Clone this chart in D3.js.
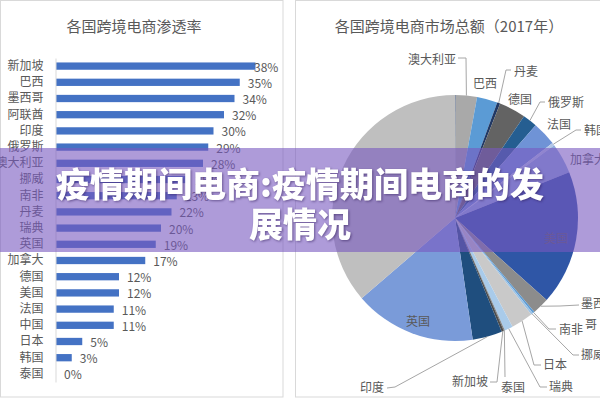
<!DOCTYPE html>
<html><head><meta charset="utf-8">
<script src="https://cdn.jsdelivr.net/npm/d3@7"></script>
<style>
html,body{margin:0;padding:0;background:#fff;}
svg{display:block;font-family:"Noto Sans CJK SC","Noto Sans",sans-serif;}
</style></head>
<body><svg id="c" width="600" height="400"></svg>
<script>
// ---- data ----
const barTitle = '各国跨境电商渗透率';
const barCategories = ['新加坡','巴西','墨西哥','阿联酋','印度','俄罗斯','澳大利亚','挪威','南非','丹麦','瑞典','英国','加拿大','德国','美国','法国','中国','日本','韩国','泰国'];
const penetrationRates = [38,35,34,32,30,29,28,25,23,22,20,19,17,12,12,11,11,5,3,0];

const pieTitle = '各国跨境电商市场总额（2017年）';
const pieCountries = ['阿联酋','澳大利亚','巴西','丹麦','德国','俄罗斯','法国','韩国','加拿大','美国','墨西哥','南非','挪威','日本','瑞典','泰国','新加坡','印度','英国','中国'];
const marketShares = [0.08,2.8,2.7,0.4,3.5,1.9,3.2,0.35,4.0,17.7,2.2,0.25,0.28,2.9,1.1,0.14,0.3,3.9,16.0,36.3];

const bannerLines = ['疫情期间电商:疫情期间电商的发','展情况'];

// ---- styles / layout (not data) ----
const pieColors = ['#264478','#A9A9A9','#5B9BD5','#203864','#636363','#255E91','#6F93D6','#B4C7E7','#8FAADC','#2F56A6','#8C8C8C','#5B9BD5','#9DC3E6','#C9C9C9','#A9CBEA','#7F7F7F','#4D4D4D','#1F4E7E','#7A9BD9','#BFBFBF'];
const labelLayout = {
  '澳大利亚':{x:456,y:58,a:'end',lead:[458,58,466,58]},
  '巴西':{x:485,y:82,a:'middle'},
  '丹麦':{x:514,y:70,a:'start',lead:[511,70,506,70]},
  '德国':{x:520,y:98,a:'middle'},
  '俄罗斯':{x:548,y:101,a:'start',lead:[545,102,540,102]},
  '法国':{x:547,y:123,a:'start'},
  '韩国':{x:584,y:129,a:'start',lead:[581,130,576,130]},
  '加拿大':{x:570,y:158,a:'start'},
  '美国':{x:556,y:237,a:'middle'},
  '墨西哥':{x:581,y:302,a:'start',lead:[579,305,560,306],wrap:['墨西','哥'],dx2:4},
  '南非':{x:559,y:328,a:'start',lead:[556,329,549,329]},
  '挪威':{x:581,y:353,a:'start',lead:[579,355,573,355]},
  '日本':{x:543,y:363,a:'start',lead:[541,365,534,365]},
  '瑞典':{x:549,y:385,a:'start',lead:[547,387,540,387]},
  '泰国':{x:501,y:386,a:'start',lead:[505,377,505,377]},
  '新加坡':{x:488,y:380,a:'end',lead:[490,382,497,382]},
  '印度':{x:384,y:386,a:'end',lead:[387,388,395,387]},
  '英国':{x:418,y:320,a:'middle'}
};

const svg = d3.select('#c');
const textColor = '#595959';

// panels
svg.append('rect').attr('x',0.5).attr('y',0.5).attr('width',282.5).attr('height',396.5)
  .attr('fill','#fff').attr('stroke','#d9d9d9');
svg.append('rect').attr('x',295.5).attr('y',0.5).attr('width',305).attr('height',396.5)
  .attr('fill','#fff').attr('stroke','#d9d9d9');

// ---- bar chart ----
svg.append('text').attr('x',134).attr('y',25).attr('text-anchor','middle')
  .attr('dominant-baseline','central').attr('font-size',15).attr('fill',textColor).text(barTitle);

const y = d3.scaleBand().domain(barCategories).range([58,382]).paddingInner(0.55).paddingOuter(0.275);
const x = d3.scaleLinear().domain([0,40]).range([56,266]);

const barG = svg.append('g');
barG.selectAll('rect').data(barCategories).join('rect')
  .attr('x', x(0)).attr('y', d=>y(d))
  .attr('width', (d,i)=>x(penetrationRates[i])-x(0))
  .attr('height', y.bandwidth()).attr('fill','#4472C4');

const yAxis = svg.append('g').attr('transform',`translate(${x(0)-0.5},0)`)
  .call(d3.axisLeft(y).tickSize(0).tickPadding(12));
yAxis.select('.domain').attr('stroke','#d9d9d9');
yAxis.selectAll('text').attr('font-size',12).attr('fill',textColor)
  .attr('font-family','"Noto Sans CJK SC",sans-serif');

barG.selectAll('text.v').data(barCategories).join('text').attr('class','v')
  .attr('x',(d,i)=>Math.min(x(penetrationRates[i])+8, 254))
  .attr('y',d=>y(d)+y.bandwidth()/2).attr('dominant-baseline','central')
  .attr('font-size',12).attr('fill',textColor)
  .text((d,i)=>penetrationRates[i]+'%');

// ---- pie chart ----
svg.append('text').attr('x',449).attr('y',25).attr('text-anchor','middle')
  .attr('dominant-baseline','central').attr('font-size',15).attr('fill',textColor).text(pieTitle);

const cx = 455, cy = 218, R = 123;
const pie = d3.pie().sort(null).value(d=>d);
const arcs = pie(marketShares);
const arc = d3.arc().innerRadius(0).outerRadius(R);
const pieG = svg.append('g').attr('transform',`translate(${cx},${cy})`);
pieG.selectAll('path').data(arcs).join('path')
  .attr('d',arc).attr('fill',(d,i)=>pieColors[i]);

const labG = svg.append('g');
arcs.forEach((a,i)=>{
  const name = pieCountries[i];
  const L = labelLayout[name];
  if(!L) return;
  if(L.lead){
    const m = (a.startAngle+a.endAngle)/2;
    const rx = cx + R*Math.sin(m), ry = cy - R*Math.cos(m);
    labG.append('path').attr('d',`M${L.lead[0]},${L.lead[1]}L${L.lead[2]},${L.lead[3]}L${rx},${ry}`)
      .attr('fill','none').attr('stroke','#a6a6a6').attr('stroke-width',1);
  }
  const t = labG.append('text').attr('x',L.x).attr('y',L.y).attr('text-anchor',L.a)
    .attr('dominant-baseline','central').attr('font-size',12).attr('fill',textColor);
  if(L.wrap){
    t.append('tspan').attr('x',L.x).attr('y',L.y).text(L.wrap[0]);
    t.append('tspan').attr('x',L.x+L.dx2).attr('y',L.y+21).text(L.wrap[1]);
  } else t.text(name);
});

// ---- banner overlay ----
svg.append('rect').attr('x',0).attr('y',148).attr('width',600).attr('height',104)
  .attr('fill','rgb(120,88,192)').attr('fill-opacity',0.6);
const bt = svg.append('g').style('filter','drop-shadow(1px 1px 1px rgba(40,20,80,0.5))');
bannerLines.forEach((s,i)=>{
  bt.append('text').attr('x',300).attr('y',182+i*40).attr('text-anchor','middle')
    .attr('dominant-baseline','central').attr('font-size',34).attr('font-weight',900)
    .attr('fill','#fff').text(s);
});
</script></body></html>
